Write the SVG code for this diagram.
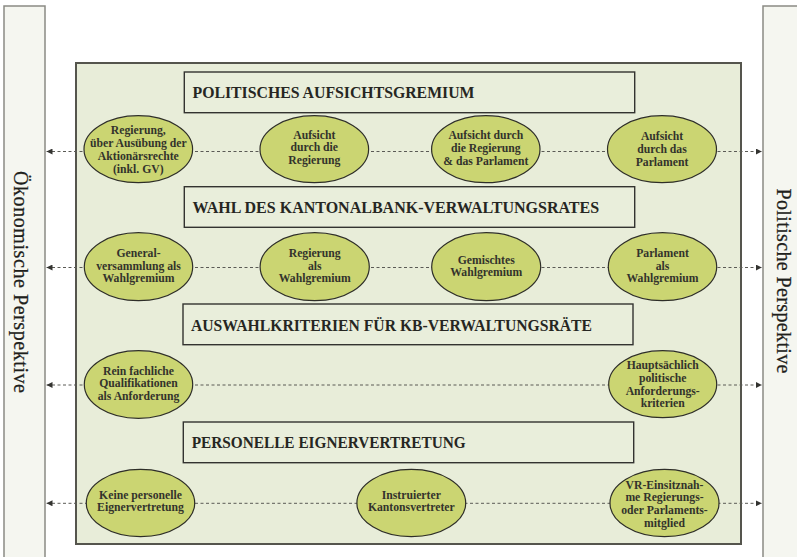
<svg xmlns="http://www.w3.org/2000/svg" width="797" height="557" viewBox="0 0 797 557">
  <defs>
    <style>
      .panel { fill: #f5f6f0; stroke: #8a8a84; stroke-width: 1.5; }
      .frame { fill: #e8edd9; stroke: #55554d; stroke-width: 2; }
      .title-box { fill: #e9eedb; stroke: #333330; stroke-width: 1.4; }
      .title { font-family: "Liberation Serif", "DejaVu Serif", serif; font-weight: bold; font-size: 16px; fill: #262622; }
      .side { font-family: "Liberation Serif", "DejaVu Serif", serif; font-size: 20px; fill: #1f1f1c; stroke: #1f1f1c; stroke-width: 0.25; }
      .node ellipse { fill: #cbd572; stroke: #2e2e28; stroke-width: 1.2; }
      .node text { font-family: "Liberation Serif", "DejaVu Serif", serif; font-weight: bold; font-size: 11.7px; fill: #33332c; text-anchor: middle; }
      .link { fill: none; stroke: #5a5a55; stroke-width: 1; stroke-dasharray: 3 2.5; }
    </style>
    <marker id="arrow" viewBox="0 0 10 10" refX="10" refY="5" markerWidth="6" markerHeight="6" markerUnits="userSpaceOnUse" orient="auto-start-reverse">
      <path d="M0,0 L10,5 L0,10 Z" fill="#333330"/>
    </marker>
  </defs>

  <!-- side perspective panels -->
  <g id="panel-oekonomisch">
    <rect class="panel" x="4" y="6" width="41" height="560"/>
    <text class="side" transform="translate(14,282) rotate(90)" text-anchor="middle" textLength="222" lengthAdjust="spacing">Ökonomische Perspektive</text>
  </g>
  <g id="panel-politisch">
    <rect class="panel" x="763" y="6" width="50" height="560"/>
    <text class="side" transform="translate(777,281) rotate(90)" text-anchor="middle" textLength="185" lengthAdjust="spacing">Politische Perspektive</text>
  </g>

  <!-- central frame -->
  <rect class="frame" x="76" y="63" width="665" height="481"/>

  <!-- section headings -->
  <g id="heading-aufsicht">
    <rect class="title-box" x="184.3" y="72" width="450.4" height="40.7"/>
    <text class="title" x="192.5" y="98" textLength="282" lengthAdjust="spacingAndGlyphs">POLITISCHES AUFSICHTSGREMIUM</text>
  </g>
  <g id="heading-wahl">
    <rect class="title-box" x="184.3" y="186.7" width="450.4" height="40.6"/>
    <text class="title" x="192.5" y="213.3" textLength="406.6" lengthAdjust="spacingAndGlyphs">WAHL DES KANTONALBANK-VERWALTUNGSRATES</text>
  </g>
  <g id="heading-kriterien">
    <rect class="title-box" x="183" y="304" width="450" height="40.7"/>
    <text class="title" x="191" y="330.7" textLength="401" lengthAdjust="spacingAndGlyphs">AUSWAHLKRITERIEN FÜR KB-VERWALTUNGSRÄTE</text>
  </g>
  <g id="heading-vertretung">
    <rect class="title-box" x="183.3" y="422" width="450.4" height="40.7"/>
    <text class="title" x="191.7" y="447.7" textLength="274" lengthAdjust="spacingAndGlyphs">PERSONELLE EIGNERVERTRETUNG</text>
  </g>

  <!-- dashed scales between the two perspectives -->
  <g id="connectors">
    <line class="link" x1="46.5" y1="151.5" x2="761.8" y2="151.5" marker-start="url(#arrow)" marker-end="url(#arrow)"/>
    <line class="link" x1="46.5" y1="267.5" x2="761.8" y2="267.5" marker-start="url(#arrow)" marker-end="url(#arrow)"/>
    <line class="link" x1="46.5" y1="385" x2="761.8" y2="385" marker-start="url(#arrow)" marker-end="url(#arrow)"/>
    <line class="link" x1="46.5" y1="503.3" x2="761.8" y2="503.3" marker-start="url(#arrow)" marker-end="url(#arrow)"/>
  </g>

  <!-- row 1: Aufsichtsgremium -->
  <g id="n-regierung-gv" class="node">
    <ellipse cx="138.3" cy="149.2" rx="54.3" ry="33.5"/>
    <text x="138.3" y="133.5">Regierung,</text>
    <text x="138.3" y="146.5">über Ausübung der</text>
    <text x="138.3" y="159.5">Aktionärsrechte</text>
    <text x="138.3" y="172.5">(inkl. GV)</text>
  </g>
  <g id="n-aufsicht-regierung" class="node">
    <ellipse cx="314.3" cy="149.2" rx="54.3" ry="33.5"/>
    <text x="314.3" y="138.5">Aufsicht</text>
    <text x="314.3" y="151.3">durch die</text>
    <text x="314.3" y="164.2">Regierung</text>
  </g>
  <g id="n-aufsicht-beide" class="node">
    <ellipse cx="485.8" cy="149.2" rx="54.2" ry="33.5"/>
    <text x="485.8" y="139">Aufsicht durch</text>
    <text x="485.8" y="151.8">die Regierung</text>
    <text x="485.8" y="164.6">&amp; das Parlament</text>
  </g>
  <g id="n-aufsicht-parlament" class="node">
    <ellipse cx="662" cy="149.2" rx="54.5" ry="33.5"/>
    <text x="662" y="139.5">Aufsicht</text>
    <text x="662" y="152.5">durch das</text>
    <text x="662" y="165.5">Parlament</text>
  </g>

  <!-- row 2: Wahlgremium -->
  <g id="n-gv-wahl" class="node">
    <ellipse cx="138.5" cy="266.7" rx="54.2" ry="34"/>
    <text x="138.5" y="256.5">General-</text>
    <text x="138.5" y="269.5">versammlung als</text>
    <text x="138.5" y="282.3">Wahlgremium</text>
  </g>
  <g id="n-regierung-wahl" class="node">
    <ellipse cx="314.7" cy="266.7" rx="54.6" ry="34"/>
    <text x="314.7" y="256.6">Regierung</text>
    <text x="314.7" y="269.5">als</text>
    <text x="314.7" y="282.2">Wahlgremium</text>
  </g>
  <g id="n-gemischt-wahl" class="node">
    <ellipse cx="486.2" cy="266.7" rx="54.5" ry="34"/>
    <text x="486.2" y="264">Gemischtes</text>
    <text x="486.2" y="276.2">Wahlgremium</text>
  </g>
  <g id="n-parlament-wahl" class="node">
    <ellipse cx="662.5" cy="266.7" rx="54.2" ry="34"/>
    <text x="662.5" y="256.6">Parlament</text>
    <text x="662.5" y="269.5">als</text>
    <text x="662.5" y="282.2">Wahlgremium</text>
  </g>

  <!-- row 3: Auswahlkriterien -->
  <g id="n-fachlich" class="node">
    <ellipse cx="138.5" cy="384.5" rx="54.2" ry="33.8"/>
    <text x="138.5" y="374.5">Rein fachliche</text>
    <text x="138.5" y="387.4">Qualifikationen</text>
    <text x="138.5" y="400.2">als Anforderung</text>
  </g>
  <g id="n-politisch" class="node">
    <ellipse cx="662.7" cy="384.2" rx="54" ry="33.5"/>
    <text x="662.7" y="369">Hauptsächlich</text>
    <text x="662.7" y="381.8">politische</text>
    <text x="662.7" y="394.6">Anforderungs-</text>
    <text x="662.7" y="407.4">kriterien</text>
  </g>

  <!-- row 4: Eignervertretung -->
  <g id="n-keine-vertretung" class="node">
    <ellipse cx="140.5" cy="503" rx="54.2" ry="33.7"/>
    <text x="140.5" y="498.5">Keine personelle</text>
    <text x="140.5" y="511.3">Eignervertretung</text>
  </g>
  <g id="n-kantonsvertreter" class="node">
    <ellipse cx="411.3" cy="503" rx="54.4" ry="33.7"/>
    <text x="411.3" y="498.5">Instruierter</text>
    <text x="411.3" y="511.3">Kantonsvertreter</text>
  </g>
  <g id="n-vr-einsitz" class="node">
    <ellipse cx="664.5" cy="503" rx="54.5" ry="33.7"/>
    <text x="664.5" y="488.5">VR-Einsitznah-</text>
    <text x="664.5" y="501.3">me Regierungs-</text>
    <text x="664.5" y="514.1">oder Parlaments-</text>
    <text x="664.5" y="526.9">mitglied</text>
  </g>
</svg>
